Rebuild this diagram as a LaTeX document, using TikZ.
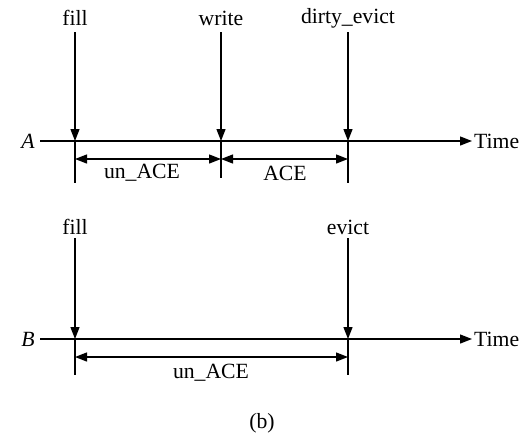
\documentclass[tikz,border=0pt]{standalone}
\usepackage{fontspec}
\setmainfont{Liberation Serif}
\usetikzlibrary{arrows.meta}
\begin{document}
\begin{tikzpicture}[x=1pt,y=-1pt,
  every node/.style={font=\fontsize{21.7}{24}\selectfont, inner sep=2pt},
  axisline/.style={line width=1.3pt},
  evtarrow/.style={line width=1.3pt, -{Triangle[length=12pt,width=9pt]}},
  spanarrow/.style={line width=1.3pt, {Triangle[length=12pt,width=9pt]}-{Triangle[length=12pt,width=9pt]}},
  ticks/.style={line width=1.3pt}]
\useasboundingbox (0,0) rectangle (530,437);

% ---- line A ----
\node (labA) at (28,141) {\itshape A};
\coordinate (A0) at (40,141);
\node[anchor=west] (timeA) at (472,141) {Time};
\draw[axisline,-{Triangle[length=12pt,width=9pt]}] (A0) -- (timeA.west);

\node (fillA) at (75,18) {fill};
\node (writeA) at (221,18) {write};
\node (dirtyA) at (348,18) {dirty\_evict};

\coordinate (fAt) at (75,32);   \coordinate (fA) at (75,141);  \coordinate (fAb) at (75,183);
\coordinate (wAt) at (221,32);  \coordinate (wA) at (221,141); \coordinate (wAb) at (221,178);
\coordinate (dAt) at (348,32);  \coordinate (dA) at (348,141); \coordinate (dAb) at (348,183);

\draw[evtarrow] (fAt) -- (fA);
\draw[evtarrow] (wAt) -- (wA);
\draw[evtarrow] (dAt) -- (dA);
\draw[ticks] (fA) -- (fAb);
\draw[ticks] (wA) -- (wAb);
\draw[ticks] (dA) -- (dAb);

\coordinate (s1) at (75,159);  \coordinate (s2) at (221,159); \coordinate (s3) at (348,159);
\draw[spanarrow] (s1) -- (s2);
\draw[spanarrow] (s2) -- (s3);
\node (unA) at (142,173) {un\_ACE};
\node (ace) at (285,173) {ACE};

% ---- line B ----
\node (labB) at (28,339) {\itshape B};
\coordinate (B0) at (40,339);
\node[anchor=west] (timeB) at (472,339) {Time};
\draw[axisline,-{Triangle[length=12pt,width=9pt]}] (B0) -- (timeB.west);

\node (fillB) at (75,227) {fill};
\node (evictB) at (348,227) {evict};

\coordinate (fBt) at (75,238);  \coordinate (fB) at (75,339);  \coordinate (fBb) at (75,375);
\coordinate (eBt) at (348,238); \coordinate (eB) at (348,339); \coordinate (eBb) at (348,375);

\draw[evtarrow] (fBt) -- (fB);
\draw[evtarrow] (eBt) -- (eB);
\draw[ticks] (fB) -- (fBb);
\draw[ticks] (eB) -- (eBb);

\coordinate (t1) at (75,357); \coordinate (t2) at (348,357);
\draw[spanarrow] (t1) -- (t2);
\node (unB) at (211,373) {un\_ACE};

\node (cap) at (262,423) {(b)};
\end{tikzpicture}
\end{document}
